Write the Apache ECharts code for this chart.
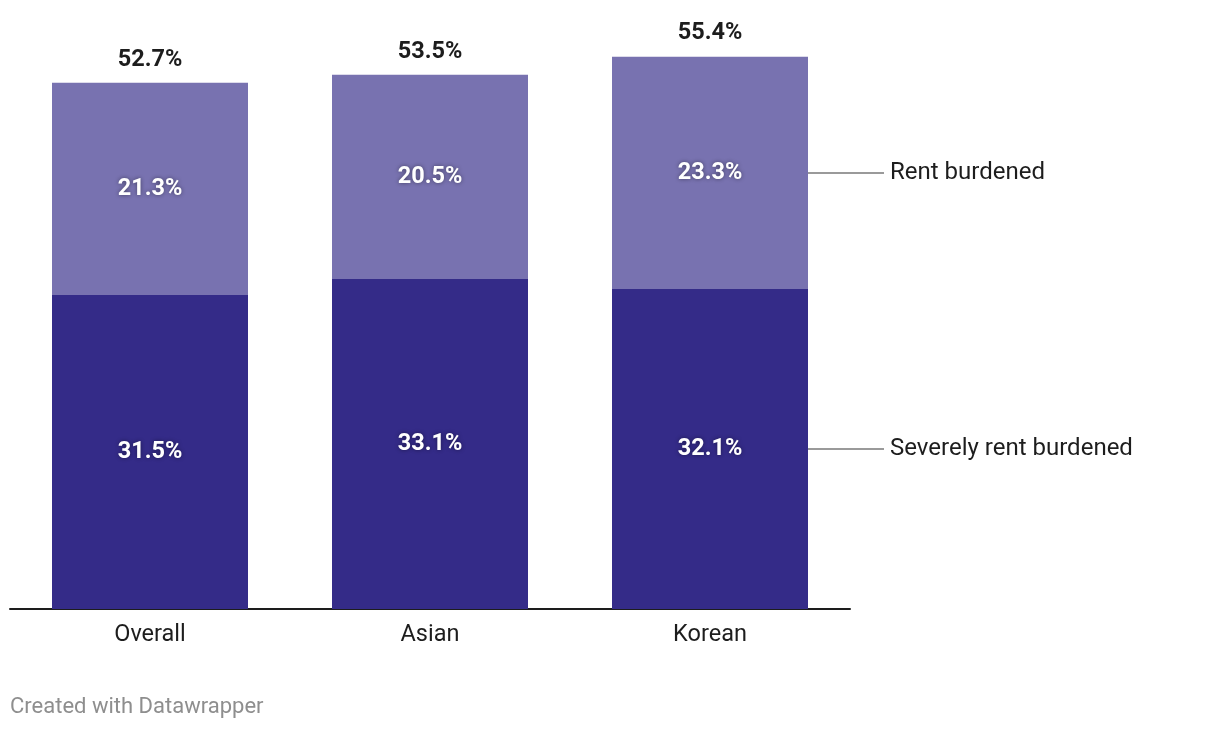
<!DOCTYPE html>
<html>
<head>
<meta charset="utf-8">
<script src="https://cdn.jsdelivr.net/npm/echarts@6/dist/echarts.min.js"></script>
<style>
html,body{margin:0;padding:0;background:#fff;}
#chart{width:1220px;height:730px;}
</style>
</head>
<body>
<div id="chart"></div>
<script>
const categories = ['Overall', 'Asian', 'Korean'];
const severelyRentBurdened = [31.5, 33.1, 32.1];
const rentBurdened = [21.3, 20.5, 23.3];
const totals = [52.7, 53.5, 55.4];
const seriesNames = ['Severely rent burdened', 'Rent burdened'];
const footerText = 'Created with Datawrapper';

const FONT = 'Roboto, "Noto Sans", sans-serif';
const lastIdx = categories.length - 1;

const insideLabel = {
  show: true,
  position: 'inside',
  color: '#fff',
  fontFamily: FONT,
  fontWeight: 'bold',
  fontSize: 23.5,
  textShadowColor: 'rgba(0,0,0,0.45)',
  textShadowBlur: 4,
  formatter: p => p.value.toFixed(1) + '%'
};

function annLabel(name) {
  return {
    show: true,
    position: 'right',
    distance: 0,
    fontFamily: FONT,
    formatter: p => p.dataIndex === lastIdx ? '{line|}{txt|' + name + '}' : '',
    rich: {
      line: { width: 76, height: 2, backgroundColor: '#9a9a9a' },
      txt: { fontSize: 24, color: '#1d1d1d', fontFamily: FONT, padding: [0, 0, 0, 6] }
    }
  };
}

const chart = echarts.init(document.getElementById('chart'), null, {renderer: 'canvas'});
chart.setOption({
  animation: false,
  grid: { left: 10, right: 370, top: 11, bottom: 121, containLabel: false },
  xAxis: {
    type: 'category',
    data: categories,
    axisLine: { show: true, lineStyle: { color: '#1d1d1d', width: 2 } },
    axisTick: { show: false },
    axisLabel: { fontFamily: FONT, fontSize: 23.5, color: '#1d1d1d', margin: 14 }
  },
  yAxis: {
    type: 'value',
    min: 0, max: 60,
    show: false,
    splitLine: { show: false }
  },
  graphic: [{
    type: 'text', left: 10, top: 696,
    style: { text: footerText, fontFamily: FONT, fontSize: 22, fill: '#8e8e8e' }
  }],
  series: [
    {
      name: seriesNames[0], type: 'bar', stack: 'main', barWidth: '70%', barGap: '-100%',
      data: severelyRentBurdened, itemStyle: { color: '#342b88' }, label: insideLabel
    },
    {
      name: seriesNames[1], type: 'bar', stack: 'main', barWidth: '70%', barGap: '-100%',
      data: rentBurdened, itemStyle: { color: '#7872b0' }, label: insideLabel
    },
    {
      name: 'ann1', type: 'bar', stack: 'ann', barWidth: '70%', barGap: '-100%',
      data: severelyRentBurdened, itemStyle: { color: 'rgba(0,0,0,0)' }, silent: true,
      label: annLabel(seriesNames[0])
    },
    {
      name: 'ann2', type: 'bar', stack: 'ann', barWidth: '70%', barGap: '-100%',
      data: rentBurdened, itemStyle: { color: 'rgba(0,0,0,0)' }, silent: true,
      label: annLabel(seriesNames[1])
    },
    {
      name: 'total', type: 'bar', stack: 'tot', barWidth: '70%', barGap: '-100%',
      data: totals, itemStyle: { color: 'rgba(0,0,0,0)' }, silent: true, z: 1,
      label: {
        show: true, position: 'top', distance: 12,
        fontFamily: FONT, fontWeight: 'bold', fontSize: 23.5, color: '#1d1d1d',
        formatter: p => p.value.toFixed(1) + '%'
      }
    }
  ]
});
</script>
</body>
</html>
